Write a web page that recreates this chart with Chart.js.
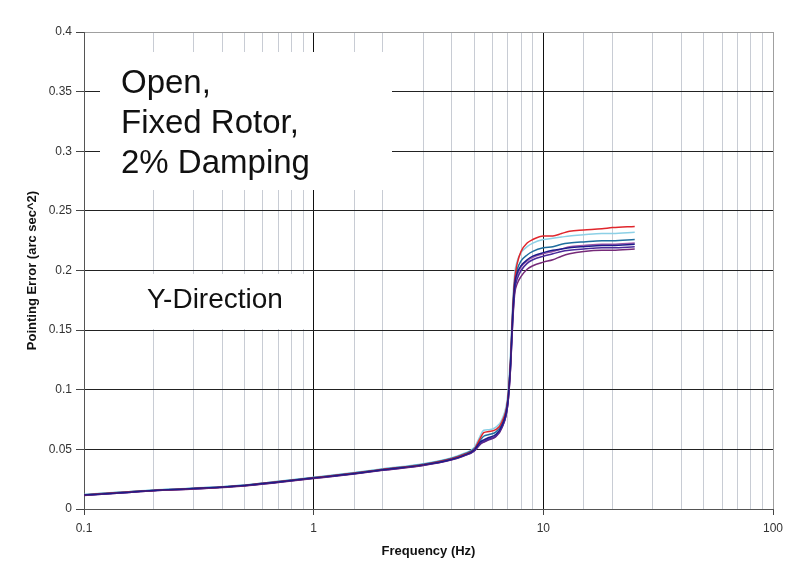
<!DOCTYPE html>
<html>
<head>
<meta charset="utf-8">
<script src="https://cdn.jsdelivr.net/npm/chart.js@4"></script>
<style>
  html, body { margin: 0; padding: 0; background: #fff; }
  #wrap { width: 785px; height: 564px; }
</style>
</head>
<body>
<div id="wrap"><canvas id="chart"></canvas></div>
<script>
// frequency points (Hz), shared by every run
const freqs = [0.1, 0.15, 0.2, 0.3, 0.5, 0.7, 1, 1.5, 2, 3, 4, 4.5, 5, 5.3, 5.5, 5.8, 6.2, 6.6, 7.0, 7.2, 7.35, 7.5, 7.7, 8.0, 8.5, 9, 10, 11, 12, 13, 15, 18, 20, 25];

// pointing error (arc sec^2), one array per curve
const redRun    = [0.0118, 0.0140, 0.0156, 0.0172, 0.0198, 0.0228, 0.0262, 0.0300, 0.0332, 0.0372, 0.0422, 0.0455, 0.0500, 0.0590, 0.0640, 0.0650, 0.0665, 0.0730, 0.0920, 0.125, 0.165, 0.192, 0.206, 0.216, 0.223, 0.226, 0.229, 0.229, 0.231, 0.233, 0.234, 0.235, 0.236, 0.237];
const cyanRun   = [0.0122, 0.0144, 0.0160, 0.0176, 0.0202, 0.0232, 0.0267, 0.0306, 0.0338, 0.0380, 0.0430, 0.0465, 0.0515, 0.0610, 0.0660, 0.0665, 0.0685, 0.0750, 0.0960, 0.132, 0.172, 0.197, 0.208, 0.215, 0.220, 0.223, 0.226, 0.227, 0.228, 0.229, 0.230, 0.231, 0.231, 0.232];
const tealRun   = [0.0120, 0.0142, 0.0158, 0.0174, 0.0200, 0.0230, 0.0264, 0.0302, 0.0334, 0.0376, 0.0426, 0.0460, 0.0505, 0.0575, 0.0610, 0.0625, 0.0645, 0.0715, 0.0910, 0.124, 0.163, 0.190, 0.201, 0.208, 0.213, 0.216, 0.219, 0.220, 0.222, 0.223, 0.224, 0.225, 0.225, 0.226];
const mauveRun  = [0.0116, 0.0138, 0.0154, 0.0170, 0.0196, 0.0226, 0.0259, 0.0297, 0.0328, 0.0368, 0.0416, 0.0448, 0.0490, 0.0550, 0.0570, 0.0590, 0.0615, 0.0690, 0.0880, 0.120, 0.158, 0.185, 0.196, 0.203, 0.208, 0.211, 0.214, 0.216, 0.218, 0.220, 0.221, 0.222, 0.222, 0.223];
const navyRun   = [0.0117, 0.0139, 0.0155, 0.0171, 0.0197, 0.0227, 0.0260, 0.0298, 0.0330, 0.0370, 0.0418, 0.0450, 0.0495, 0.0560, 0.0580, 0.0600, 0.0625, 0.0700, 0.0900, 0.123, 0.162, 0.188, 0.198, 0.204, 0.209, 0.212, 0.215, 0.217, 0.218, 0.219, 0.220, 0.221, 0.221, 0.222];
const violetRun = [0.0115, 0.0137, 0.0153, 0.0169, 0.0195, 0.0224, 0.0257, 0.0295, 0.0326, 0.0366, 0.0414, 0.0446, 0.0488, 0.0545, 0.0565, 0.0585, 0.0610, 0.0685, 0.0875, 0.119, 0.157, 0.183, 0.193, 0.200, 0.206, 0.209, 0.212, 0.214, 0.216, 0.217, 0.218, 0.219, 0.219, 0.220];
const plumRun   = [0.0114, 0.0136, 0.0152, 0.0168, 0.0193, 0.0222, 0.0255, 0.0293, 0.0324, 0.0364, 0.0412, 0.0444, 0.0485, 0.0540, 0.0560, 0.0580, 0.0605, 0.0680, 0.0870, 0.118, 0.155, 0.180, 0.189, 0.195, 0.201, 0.204, 0.207, 0.209, 0.212, 0.214, 0.216, 0.217, 0.217, 0.218];

const runs = [
  { data: navyRun,   color: '#1c1c8a' },
  { data: redRun,    color: '#e0262c' },
  { data: violetRun, color: '#4a2a9a' },
  { data: tealRun,   color: '#1f6e9e' },
  { data: plumRun,   color: '#762a78' },
  { data: mauveRun,  color: '#9b55a8' },
  { data: cyanRun,   color: '#8cd0e6' }
];

const notes = [
  { lines: ['Open,', 'Fixed Rotor,', '2% Damping'], box: [100, 52, 292, 138], x: 121, y: 93, size: 33, step: 40 },
  { lines: ['Y-Direction'], box: [140, 274, 168, 55], x: 147, y: 308, size: 28, step: 0 }
];

// white text boxes sitting on top of the grid, under the curves
const notePlugin = {
  id: 'notes',
  beforeDatasetsDraw(chart) {
    const ctx = chart.ctx;
    ctx.save();
    notes.forEach(n => {
      ctx.fillStyle = '#fff';
      ctx.fillRect(n.box[0], n.box[1], n.box[2], n.box[3]);
      ctx.fillStyle = '#111';
      ctx.font = n.size + 'px "Liberation Sans", Arial, sans-serif';
      ctx.textBaseline = 'alphabetic';
      n.lines.forEach((t, i) => ctx.fillText(t, n.x, n.y + i * n.step));
    });
    ctx.restore();
  }
};

const isDecade = v => Math.abs(Math.log10(v) - Math.round(Math.log10(v))) < 1e-6;

const ctx = document.getElementById('chart');
new Chart(ctx, {
  type: 'line',
  data: {
    datasets: runs.map(r => ({
      data: freqs.map((f, i) => ({ x: f, y: r.data[i] })),
      borderColor: r.color,
      borderWidth: 1.5,
      pointRadius: 0,
      fill: false,
      cubicInterpolationMode: 'monotone'
    }))
  },
  options: {
    responsive: true,
    maintainAspectRatio: false,
    animation: false,
    layout: { padding: { top: 32, right: 12, left: 0, bottom: 0 } },
    plugins: { legend: { display: false }, tooltip: { enabled: false } },
    scales: {
      x: {
        type: 'logarithmic',
        min: 0.1,
        max: 100,
        afterFit: s => { s.height = 55; s.paddingLeft = 0; s.paddingRight = 0; },
        border: { color: '#555', width: 1 },
        grid: {
          color: c => {
            const v = c.tick.value;
            if (v >= 100) return '#a0a0a0';
            return isDecade(v) ? '#111' : '#c8ccd4';
          },
          tickColor: c => isDecade(c.tick.value) ? '#444' : 'rgba(0,0,0,0)',
          tickLength: 6
        },
        ticks: {
          autoSkip: false,
          maxRotation: 0,
          padding: 6,
          color: '#333',
          font: { family: '"Liberation Sans", Arial, sans-serif', size: 12 },
          callback: v => isDecade(v) ? String(+v.toFixed(1)) : ''
        },
        title: {
          display: true,
          text: 'Frequency (Hz)',
          color: '#111',
          font: { family: '"Liberation Sans", Arial, sans-serif', size: 13, weight: 'bold' },
          padding: { top: 0, bottom: 5 }
        }
      },
      y: {
        min: 0,
        max: 0.4,
        afterFit: s => { s.width = 84; },
        border: { color: '#555', width: 1 },
        grid: {
          color: c => c.tick.value >= 0.4 ? '#a0a0a0' : '#222',
          tickColor: '#444',
          tickLength: 8
        },
        ticks: {
          stepSize: 0.05,
          padding: 4,
          color: '#333',
          font: { family: '"Liberation Sans", Arial, sans-serif', size: 12 },
          callback: v => String(+v.toFixed(2))
        },
        title: {
          display: true,
          text: 'Pointing Error (arc sec^2)',
          color: '#111',
          font: { family: '"Liberation Sans", Arial, sans-serif', size: 13, weight: 'bold' },
          padding: { top: 25, bottom: 0 }
        }
      }
    }
  },
  plugins: [notePlugin]
});
</script>
</body>
</html>
